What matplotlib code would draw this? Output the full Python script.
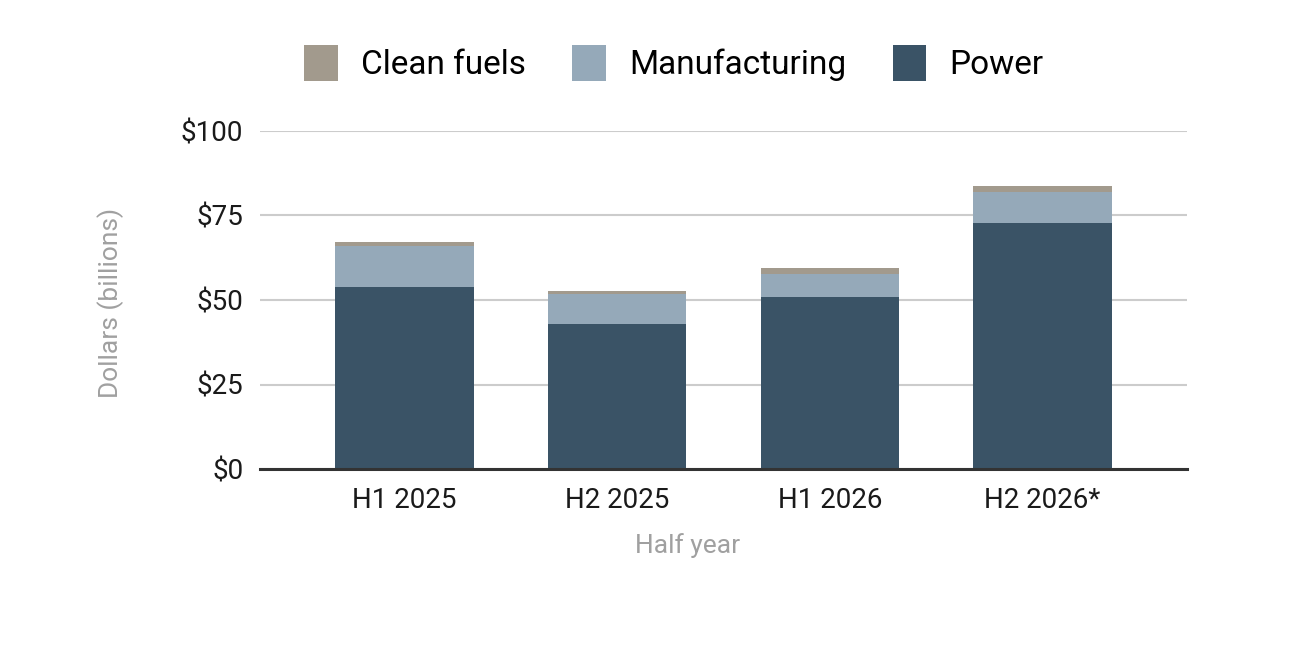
import matplotlib
matplotlib.use("Agg")
import matplotlib.pyplot as plt
import numpy as np

# data (billions of dollars)
periods = ["H1 2025", "H2 2025", "H1 2026", "H2 2026*"]
power = [53.8, 42.9, 51.0, 72.9]
manufacturing = [12.2, 8.9, 6.8, 9.0]
clean_fuels = [1.1, 0.9, 1.6, 1.7]
yticks = [0, 25, 50, 75, 100]

plt.rcParams["font.family"] = ["Roboto", "DejaVu Sans"]

fig = plt.figure(figsize=(12.96, 6.46), dpi=100)
ax = fig.add_axes([260 / 1296, 1 - 469 / 646, 927 / 1296, 338 / 646])

x = np.arange(len(periods))
w = 0.65
b1 = ax.bar(x, power, w, color="#3a5366", label="Power", zorder=3)
bottom2 = np.array(power)
b2 = ax.bar(x, manufacturing, w, bottom=bottom2, color="#95a9b9",
            label="Manufacturing", zorder=3)
bottom3 = bottom2 + np.array(manufacturing)
b3 = ax.bar(x, clean_fuels, w, bottom=bottom3, color="#a29a8d",
            label="Clean fuels", zorder=3)

ax.set_xlim(-0.68, 3.68)
ax.set_ylim(0, 100)
ax.set_yticks(yticks)
ax.set_yticklabels(["$" + str(v) for v in yticks])
ax.set_xticks(x)
ax.set_xticklabels(periods)

ax.grid(axis="y", color="#cccccc", linewidth=1.5, zorder=0)
ax.axhline(0, color="#333333", linewidth=2.2, zorder=4, clip_on=False)
for s in ax.spines.values():
    s.set_visible(False)
ax.tick_params(axis="both", length=0, labelsize=20, colors="#1a1a1a")
ax.tick_params(axis="y", pad=12)
ax.tick_params(axis="x", pad=13)

ax.set_xlabel("Half year", fontsize=19, color="#a0a0a0")
ax.set_ylabel("Dollars (billions)", fontsize=19, color="#a0a0a0")
ax.xaxis.set_label_coords((688 - 260) / 927, -(533 - 469) / 338)
ax.yaxis.set_label_coords((124 - 260) / 927, 0.49)

fig.legend(handles=[b3, b2, b1], labels=["Clean fuels", "Manufacturing", "Power"],
           loc="center", bbox_to_anchor=(674 / 1296, 1 - 63 / 646), ncol=3,
           frameon=False, fontsize=24, handlelength=1.0, handleheight=1.3,
           handletextpad=0.7, columnspacing=1.4)

fig.savefig("out.png", dpi=100, facecolor="white")
